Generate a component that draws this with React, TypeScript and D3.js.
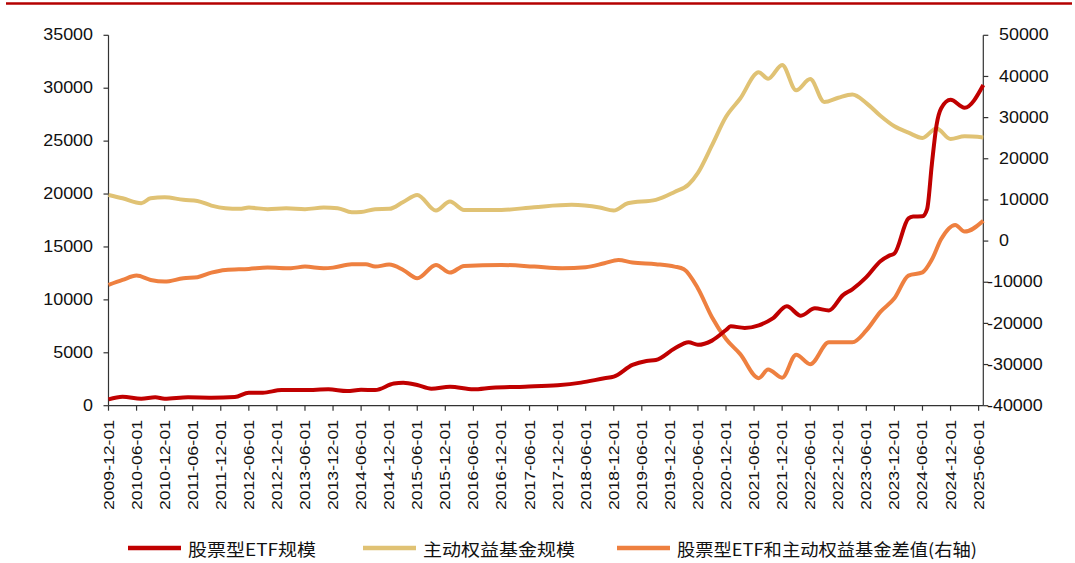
import * as d3 from "d3";

// x categories: tick labels every 6 months
const tickLabels = [
  "2009-12-01", "2010-06-01", "2010-12-01", "2011-06-01", "2011-12-01", "2012-06-01",
  "2012-12-01", "2013-06-01", "2013-12-01", "2014-06-01", "2014-12-01", "2015-06-01",
  "2015-12-01", "2016-06-01", "2016-12-01", "2017-06-01", "2017-12-01", "2018-06-01",
  "2018-12-01", "2019-06-01", "2019-12-01", "2020-06-01", "2020-12-01", "2021-06-01",
  "2021-12-01", "2022-06-01", "2022-12-01", "2023-06-01", "2023-12-01", "2024-06-01",
  "2024-12-01", "2025-06-01",
];
const firstMonth = "2009-12";
const lastMonth = "2025-07";

// 股票型ETF规模 (left axis)
const etfDates = [
  "2009-12", "2010-03", "2010-07", "2010-10", "2010-12", "2011-05", "2011-10", "2012-03",
  "2012-06", "2012-09", "2013-01", "2013-06", "2013-11", "2014-03", "2014-06", "2014-09",
  "2015-01", "2015-03", "2015-06", "2015-09", "2016-01", "2016-06", "2016-10", "2017-05",
  "2017-12", "2018-05", "2018-10", "2018-12", "2019-04", "2019-07", "2019-09", "2020-01",
  "2020-04", "2020-06", "2020-09", "2020-12", "2021-01", "2021-04", "2021-07", "2021-10",
  "2022-01", "2022-04", "2022-07", "2022-10", "2023-01", "2023-03", "2023-06", "2023-09",
  "2023-11", "2023-12", "2024-03", "2024-04", "2024-06", "2024-07", "2024-08", "2024-09",
  "2024-10", "2024-12", "2025-03", "2025-07",
];
const etfValues = [
  600, 850, 660, 790, 660, 790, 760, 820,
  1230, 1230, 1480, 1480, 1550, 1390, 1500, 1480,
  2100, 2170, 1960, 1610, 1800, 1550, 1700, 1800,
  1930, 2180, 2590, 2740, 3850, 4230, 4320, 5400,
  6000, 5750, 6150, 7150, 7500, 7350, 7600, 8250,
  9400, 8500, 9200, 9000, 10450, 11000, 12150, 13650,
  14200, 14380, 17700, 17870, 17900, 18600, 22800, 26500,
  28100, 28900, 28150, 30300,
];

// 主动权益基金规模 (left axis)
const activeDates = [
  "2009-12", "2010-03", "2010-07", "2010-09", "2010-12", "2011-04", "2011-07", "2011-10",
  "2012-01", "2012-04", "2012-06", "2012-10", "2013-02", "2013-06", "2013-10", "2014-01",
  "2014-04", "2014-06", "2014-09", "2014-12", "2015-03", "2015-06", "2015-10", "2016-01",
  "2016-04", "2016-12", "2017-07", "2018-03", "2018-09", "2018-12", "2019-03", "2019-09",
  "2020-01", "2020-04", "2020-06", "2020-09", "2020-12", "2021-03", "2021-07", "2021-09",
  "2021-12", "2022-03", "2022-06", "2022-09", "2022-12", "2023-03", "2023-06", "2023-09",
  "2023-12", "2024-03", "2024-06", "2024-09", "2024-12", "2025-03", "2025-07",
];
const activeValues = [
  19920, 19600, 19130, 19600, 19700, 19450, 19350, 18910,
  18660, 18600, 18720, 18570, 18660, 18570, 18720, 18660,
  18280, 18310, 18570, 18600, 19250, 19920, 18440, 19290,
  18500, 18500, 18760, 18980, 18720, 18440, 19130, 19450,
  20200, 20900, 22000, 24600, 27300, 29000, 31500, 30900,
  32200, 29800, 30860, 28700, 29100, 29400, 28600, 27400,
  26400, 25800, 25300, 26200, 25200, 25450, 25350,
];

// 股票型ETF和主动权益基金差值 (right axis)
const diffDates = [
  "2009-12", "2010-03", "2010-06", "2010-09", "2010-12", "2011-04", "2011-07", "2011-10",
  "2012-01", "2012-06", "2012-10", "2013-03", "2013-06", "2013-10", "2013-12", "2014-04",
  "2014-07", "2014-09", "2014-12", "2015-03", "2015-06", "2015-10", "2016-01", "2016-04",
  "2016-12", "2017-07", "2018-01", "2018-06", "2018-10", "2019-01", "2019-04", "2019-09",
  "2020-01", "2020-03", "2020-06", "2020-09", "2020-12", "2021-03", "2021-07", "2021-09",
  "2021-12", "2022-03", "2022-06", "2022-10", "2023-03", "2023-06", "2023-09", "2023-12",
  "2024-03", "2024-06", "2024-08", "2024-10", "2025-01", "2025-03", "2025-07",
];
const diffValues = [
  -10650, -9440, -8390, -9440, -9850, -9030, -8780, -7660,
  -7010, -6770, -6450, -6590, -6200, -6590, -6450, -5620,
  -5620, -6200, -5720, -7010, -9030, -5790, -7660, -6030,
  -5790, -6200, -6590, -6350, -5380, -4580, -5230, -5620,
  -6200, -6840, -11500, -18500, -23800, -27400, -33300, -31200,
  -33200, -27600, -29900, -24600, -24600, -21700, -17200, -13900,
  -8400, -7600, -4500, 500, 3930, 2300, 4950,
];

const leftTicks = [0, 5000, 10000, 15000, 20000, 25000, 30000, 35000];
const rightTicks = [-40000, -30000, -20000, -10000, 0, 10000, 20000, 30000, 40000, 50000];

const legendItems = [
  { name: "股票型ETF规模", color: "#C00000", len: 128 },
  { name: "主动权益基金规模", color: "#E0C274", len: 152 },
  { name: "股票型ETF和主动权益基金差值(右轴)", color: "#EE8040", len: 300 },
];

const monthIndex = (s: string) => {
  const [y, m] = s.split("-").map(Number);
  return (y - 2009) * 12 + (m - 12);
};

const W = 1075;
const H = 563;
const left = 108.5;
const right = 983.3;
const top = 35.3;
const bottom = 405.7;

export default function App() {
  const x = d3
    .scaleLinear()
    .domain([monthIndex(firstMonth), monthIndex(lastMonth)])
    .range([left, right]);
  const yL = d3.scaleLinear().domain([0, 35000]).range([bottom, top]);
  const yR = d3.scaleLinear().domain([-40000, 50000]).range([bottom, top]);

  const line = (dates: string[], vals: number[], y: d3.ScaleLinear<number, number>) =>
    d3
      .line<number>()
      .x((_, i) => x(monthIndex(dates[i])))
      .y((v) => y(v))
      .curve(d3.curveMonotoneX)(vals) || "";

  const font = "'Liberation Sans', Arial, sans-serif";
  const legendX = [128, 363, 617];

  return (
    <svg
      width={W}
      height={H}
      style={{ position: "absolute", left: 0, top: 0, background: "#fff" }}
      fontFamily={font}
    >
      <line x1={6} x2={1072} y1={3.5} y2={3.5} stroke="#B40000" strokeWidth={2.5} />

      {/* left axis */}
      <line x1={left} x2={left} y1={top} y2={bottom} stroke="#333" strokeWidth={1.2} />
      {leftTicks.map((t) => (
        <g key={t}>
          <line x1={left - 5} x2={left} y1={yL(t)} y2={yL(t)} stroke="#333" strokeWidth={1.2} />
          <text
            transform={`translate(93,${yL(t)}) scale(1.12,1)`}
            textAnchor="end"
            dominantBaseline="central"
            fontSize={16}
            fill="#111"
          >
            {t}
          </text>
        </g>
      ))}

      {/* right axis */}
      <line x1={right} x2={right} y1={top} y2={bottom} stroke="#333" strokeWidth={1.2} />
      {rightTicks.map((t) => (
        <g key={t}>
          <line x1={right} x2={right + 5} y1={yR(t)} y2={yR(t)} stroke="#333" strokeWidth={1.2} />
          <text
            transform={`translate(${t < 0 ? 987 : 999},${yR(t)}) scale(1.12,1)`}
            textAnchor="start"
            dominantBaseline="central"
            fontSize={16}
            fill="#111"
          >
            {t}
          </text>
        </g>
      ))}

      {/* bottom axis */}
      <line x1={left} x2={right} y1={bottom} y2={bottom} stroke="#333" strokeWidth={1.2} />
      {tickLabels.map((lab) => {
        const xi = x(monthIndex(lab.slice(0, 7)));
        return (
          <g key={lab}>
            <line x1={xi} x2={xi} y1={bottom} y2={bottom + 5} stroke="#333" strokeWidth={1.2} />
            <text
              transform={`translate(${xi},420) rotate(-90)`}
              textAnchor="end"
              dominantBaseline="central"
              fontSize={14.5}
              textLength={90}
              lengthAdjust="spacingAndGlyphs"
              fill="#111"
            >
              {lab}
            </text>
          </g>
        );
      })}

      {/* series */}
      <path d={line(activeDates, activeValues, yL)} fill="none" stroke="#E0C274" strokeWidth={4} />
      <path d={line(diffDates, diffValues, yR)} fill="none" stroke="#EE8040" strokeWidth={4} />
      <path d={line(etfDates, etfValues, yL)} fill="none" stroke="#C00000" strokeWidth={4} />

      {/* legend */}
      {legendItems.map((it, i) => (
        <g key={it.name}>
          <line
            x1={legendX[i]}
            x2={legendX[i] + 53}
            y1={548}
            y2={548}
            stroke={it.color}
            strokeWidth={4.5}
          />
          <text
            x={legendX[i] + 60}
            y={548}
            dominantBaseline="central"
            fontSize={17}
            fontFamily="'Noto Sans CJK SC', sans-serif"
            textLength={it.len}
            lengthAdjust="spacingAndGlyphs"
            fill="#111"
          >
            {it.name}
          </text>
        </g>
      ))}
    </svg>
  );
}
